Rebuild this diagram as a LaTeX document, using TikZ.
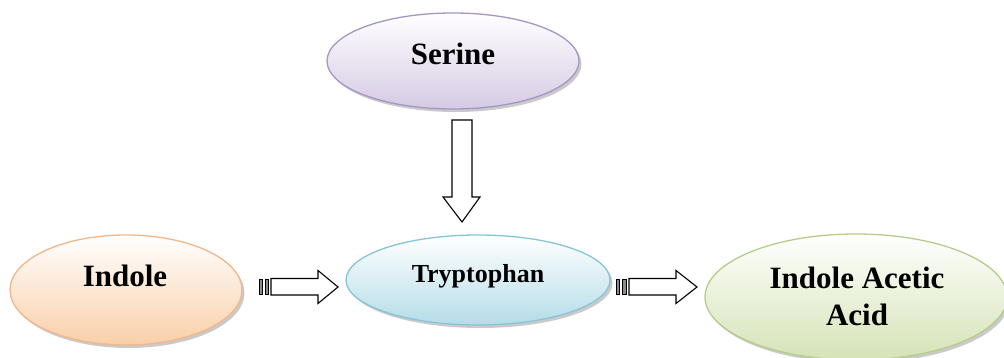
\documentclass[tikz,border=0pt]{standalone}
\usepackage{fontspec}
\setmainfont{Liberation Serif}
\usetikzlibrary{shapes.geometric,shadows}
\definecolor{serFill}{HTML}{D5CAE4}
\definecolor{serLine}{HTML}{A596C4}
\definecolor{indFill}{HTML}{F9CFA9}
\definecolor{indLine}{HTML}{F2B68A}
\definecolor{trpFill}{HTML}{B5DCE8}
\definecolor{trpLine}{HTML}{86C5D8}
\definecolor{iaaFill}{HTML}{D5E3B6}
\definecolor{iaaLine}{HTML}{B5CD8A}
\tikzset{
  blob/.style={ellipse, inner sep=0pt, line width=1.3pt,
    drop shadow={shadow xshift=2.5pt, shadow yshift=-3pt, opacity=0.35, fill=black!60}},
  lbl/.style={font=\bfseries\fontsize{31}{37}\selectfont, anchor=base, align=center, inner sep=0pt},
  blockarrow/.style={draw=black, line width=1.1pt, fill=white, line join=miter},
  tailbar/.style={draw=black, line width=1pt, fill=black!45}
}
\begin{document}
\begin{tikzpicture}[x=1pt,y=-1pt]
  \useasboundingbox (0,0) rectangle (1004,358);

  % substrate and product ellipses
  \node[blob, draw=serLine, top color=white, bottom color=serFill,
        minimum width=252pt, minimum height=96pt] (serine) at (453,61) {};
  \node[blob, draw=indLine, top color=white, bottom color=indFill,
        minimum width=232pt, minimum height=110pt] (indole) at (126,290) {};
  \node[blob, draw=trpLine, top color=white, bottom color=trpFill,
        minimum width=264pt, minimum height=90pt] (trp) at (478,280) {};
  \node[blob, draw=iaaLine, top color=white, bottom color=iaaFill,
        minimum width=302pt, minimum height=126pt] (iaa) at (856,297) {};

  % labels
  \node[lbl] (serineText) at (453,65) {Serine};
  \node[lbl] (indoleText) at (125,287) {Indole};
  \node[lbl, font=\bfseries\fontsize{26}{30}\selectfont] (trpText) at (478,282) {Tryptophan};
  \node[lbl] (iaaText1) at (857,288) {Indole Acetic};
  \node[lbl] (iaaText2) at (857,325) {Acid};

  % serine feeds tryptophan
  \draw[blockarrow] (452,120) -- (472,120) -- (472,197) -- (480,197) -- (462,222)
     -- (443,197) -- (452,197) -- cycle;

  % indole -> tryptophan
  \draw[tailbar] (259,279) rectangle (262,294);
  \draw[tailbar] (265,279) rectangle (268.5,294);
  \draw[blockarrow] (271,278.5) -- (318,278.5) -- (318,270.5) -- (338,287)
     -- (318,303.5) -- (318,295) -- (271,295) -- cycle;

  % tryptophan -> indole acetic acid
  \draw[tailbar] (616.5,279) rectangle (619.5,294);
  \draw[tailbar] (622.5,279) rectangle (626,294);
  \draw[blockarrow] (629,278.5) -- (676,278.5) -- (676,270.5) -- (697,287)
     -- (676,303.5) -- (676,295) -- (629,295) -- cycle;
\end{tikzpicture}
\end{document}
